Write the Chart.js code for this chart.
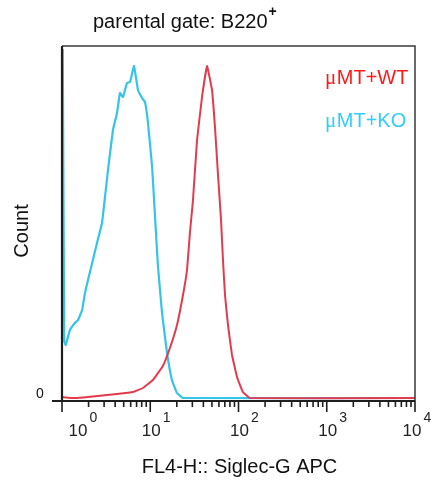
<!DOCTYPE html>
<html>
<head>
<meta charset="utf-8">
<script src="https://cdn.jsdelivr.net/npm/chart.js@4.4.1/dist/chart.umd.min.js"></script>
<style>
  html, body { margin: 0; padding: 0; background: #ffffff; }
  #wrap { width: 433px; height: 482px; }
</style>
</head>
<body>
<div id="wrap"><canvas id="c" width="433" height="482"></canvas></div>
<script>
// ---- data (FL4-H intensity, count) ----
const titleText = "parental gate: B220";
const titleSup = "+";
const xAxisTitle = "FL4-H:: Siglec-G APC";
const yAxisTitle = "Count";
const seriesPrefix = "\u03BC";
const seriesNames = ["MT+WT", "MT+KO"];

const wtX = [1.00, 1.40, 1.97, 4.20, 6.37, 8.28, 10.7, 13.9, 16.7, 20.1, 23.5, 26.1, 28.2, 30.5, 33.9, 38.6, 44.0, 50.1, 54.2, 58.6, 63.4, 66.7, 70.3, 76.0, 84.4, 96.2, 112, 135, 10000];
const wtY = [4, 3, 4, 7, 9, 13, 21, 35, 53, 76, 106, 131, 169, 201, 261, 304, 335, 311, 273, 226, 181, 141, 106, 76, 46, 24, 9, 3, 3];

const koX = [1.02, 1.06, 1.10, 1.23, 1.40, 1.52, 1.69, 1.82, 1.97, 2.24, 2.49, 2.84, 3.07, 3.32, 3.78, 4.20, 4.54, 4.91, 5.45, 5.90, 6.55, 7.26, 8.07, 8.72, 9.43, 10.5, 11.3, 12.2, 13.6, 15.5, 17.6, 20.1, 23.5, 10000];
const koY = [352, 60, 56, 71, 78, 81, 91, 108, 121, 141, 158, 178, 204, 231, 271, 288, 308, 304, 318, 319, 335, 311, 303, 299, 278, 234, 186, 136, 88, 48, 21, 8, 3, 3];

const majorTicks = [1, 10, 100, 1000, 10000];
const tickExponents = ["0", "1", "2", "3", "4"];
const minorMultipliers = [2, 3, 4, 5, 6, 7, 8, 9];
const yTickValues = [0];
const yTickLabels = ["0"];

// ---- styles ----
const wtColor = "rgb(228,58,78)";
const koColor = "rgb(52,196,232)";
const wtTextColor = "#ff1a1a";
const koTextColor = "#33ccff";
const FONT = "'Liberation Sans', Arial, sans-serif";
const SERIF = "'Liberation Serif', 'Times New Roman', serif";

function toPoints(xs, ys) { return xs.map((x, i) => ({ x: x, y: ys[i] })); }

const decor = {
  id: 'decor',
  afterDatasetsDraw(chart) {
    const ctx = chart.ctx;
    const a = chart.chartArea;
    const xs = chart.scales.x;
    const ys = chart.scales.y;
    ctx.save();
    // frame
    ctx.strokeStyle = "#3a3a3a";
    ctx.lineWidth = 1.5;
    ctx.beginPath();
    ctx.moveTo(a.left, a.top); ctx.lineTo(a.right, a.top); ctx.lineTo(a.right, a.bottom);
    ctx.stroke();
    ctx.strokeStyle = "#1e1e1e";
    ctx.lineWidth = 2.2;
    ctx.beginPath();
    ctx.moveTo(a.left, a.top); ctx.lineTo(a.left, a.bottom);
    ctx.stroke();
    // y ticks
    yTickValues.forEach((v, i) => {
      const py = ys.getPixelForValue(v);
      ctx.beginPath();
      ctx.lineWidth = 2;
      ctx.moveTo(a.left - 10, py); ctx.lineTo(a.right, py);
      ctx.stroke();
      ctx.fillStyle = "#111";
      ctx.font = "14px " + FONT;
      ctx.textAlign = "center"; ctx.textBaseline = "middle";
      ctx.fillText(yTickLabels[i], a.left - 22, py - 7);
    });
    // x ticks
    ctx.lineWidth = 1.6;
    ctx.strokeStyle = "#1e1e1e";
    majorTicks.forEach((t, i) => {
      const px = xs.getPixelForValue(t);
      ctx.beginPath(); ctx.moveTo(px, a.bottom); ctx.lineTo(px, a.bottom + 11); ctx.stroke();
      if (i < majorTicks.length - 1) {
        minorMultipliers.forEach(m => {
          const mx = xs.getPixelForValue(t * m);
          ctx.beginPath(); ctx.moveTo(mx, a.bottom); ctx.lineTo(mx, a.bottom + 6); ctx.stroke();
        });
      }
      // label 10^n
      let cx = px + 1;
      if (cx < a.left + 16) cx = a.left + 16;
      if (cx > a.right - 3) cx = a.right - 3;
      ctx.fillStyle = "#222";
      ctx.font = "17px " + FONT;
      ctx.textAlign = "center"; ctx.textBaseline = "middle";
      ctx.fillText("10", cx, a.bottom + 30);
      const w = ctx.measureText("10").width;
      ctx.font = "14px " + FONT;
      ctx.textAlign = "left";
      ctx.fillText(tickExponents[i], cx + w / 2 + 2, a.bottom + 17);
    });
    // axis titles
    ctx.fillStyle = "#111";
    ctx.font = "20px " + FONT;
    ctx.textAlign = "center"; ctx.textBaseline = "middle";
    ctx.fillText(xAxisTitle, (a.left + a.right) / 2 + 1, 467);
    ctx.save();
    ctx.translate(22, 231);
    ctx.rotate(-Math.PI / 2);
    ctx.fillText(yAxisTitle, 0, 0);
    ctx.restore();
    // title
    ctx.font = "20px " + FONT;
    ctx.textAlign = "left";
    ctx.fillText(titleText, 93, 22);
    const tw = ctx.measureText(titleText).width;
    ctx.font = "bold 14px " + FONT;
    ctx.fillText(titleSup, 93 + tw + 1, 12);
    // legend texts
    const legendY = [78, 121];
    const legendCol = [wtTextColor, koTextColor];
    seriesNames.forEach((name, i) => {
      ctx.fillStyle = legendCol[i];
      ctx.textAlign = "left";
      ctx.font = "21px " + SERIF;
      ctx.fillText(seriesPrefix, 325, legendY[i]);
      const mw = ctx.measureText(seriesPrefix).width;
      ctx.font = "20px " + FONT;
      ctx.fillText(name, 325 + mw + 0.5, legendY[i]);
    });
    ctx.restore();
  }
};

new Chart(document.getElementById('c'), {
  type: 'line',
  data: {
    datasets: [
      { label: seriesPrefix + seriesNames[0], data: toPoints(wtX, wtY), borderColor: wtColor, borderWidth: 2, pointRadius: 0, tension: 0.08, fill: false },
      { label: seriesPrefix + seriesNames[1], data: toPoints(koX, koY), borderColor: koColor, borderWidth: 2.2, pointRadius: 0, tension: 0.08, fill: false }
    ]
  },
  options: {
    responsive: false,
    animation: false,
    devicePixelRatio: 1,
    layout: { padding: { left: 62, top: 46, right: 18, bottom: 81 } },
    plugins: { legend: { display: false }, title: { display: false }, tooltip: { enabled: false } },
    scales: {
      x: { type: 'logarithmic', min: 1, max: 10000, display: false },
      y: { type: 'linear', min: 0, max: 355, display: false }
    }
  },
  plugins: [decor]
});
</script>
</body>
</html>
